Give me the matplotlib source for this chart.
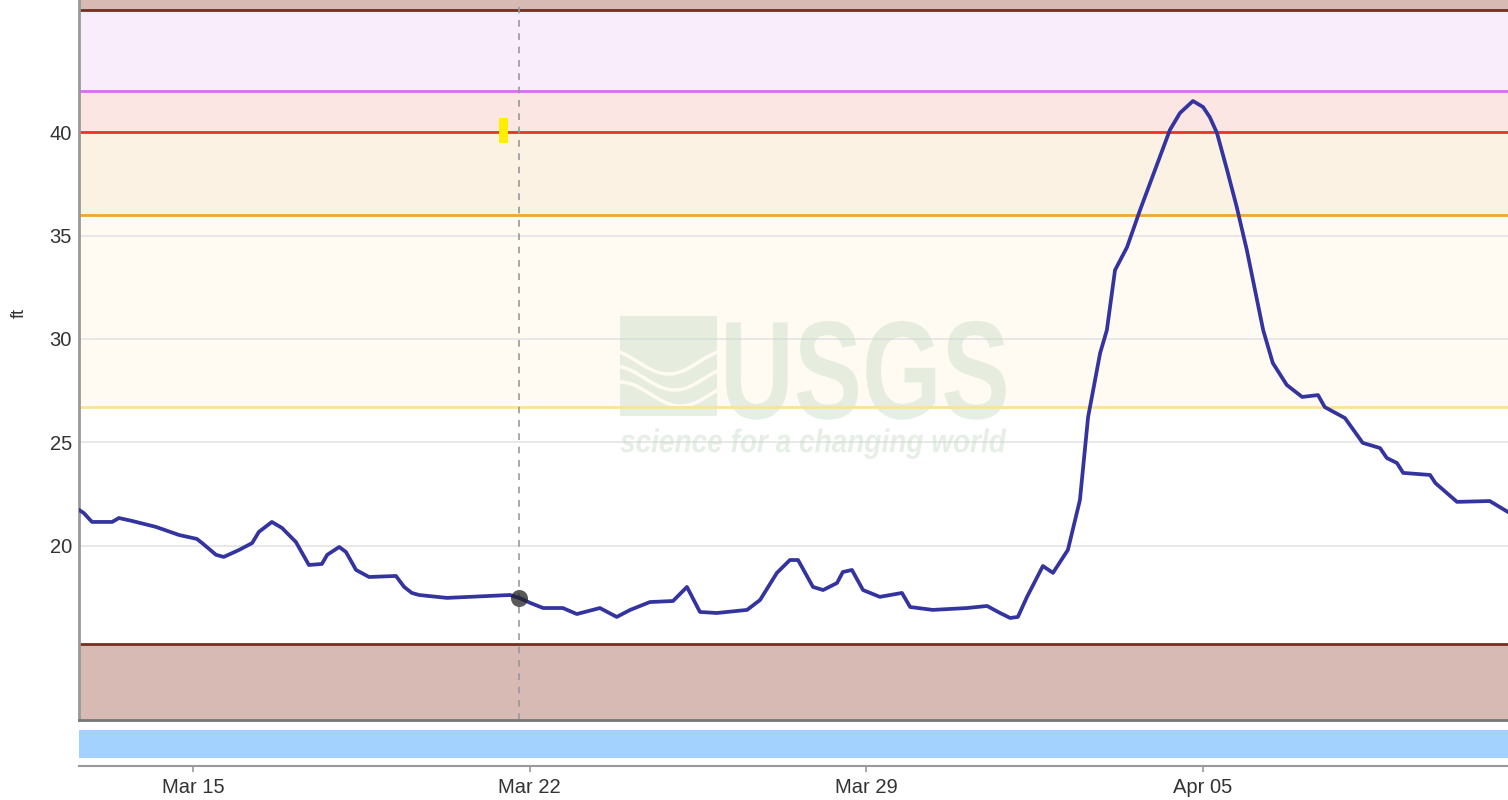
import numpy as np
import pandas as pd
import matplotlib
matplotlib.use('Agg')
import matplotlib.pyplot as plt
import matplotlib.dates as mdates
from matplotlib.patches import Rectangle
from matplotlib.patheffects import AbstractPathEffect
from matplotlib.transforms import Affine2D

plt.rcParams['font.family'] = ['Liberation Sans', 'DejaVu Sans']

start = pd.Timestamp('2025-03-01')

# gage height readings: day counted from Mar 1 (= day 1, Apr 1 = day 32) and feet
stage_day = [12.63, 12.73, 12.90, 13.32, 13.46, 13.73, 14.23, 14.71, 15.08, 15.19,
             15.48, 15.64, 15.96, 16.23, 16.37, 16.64, 16.85, 17.14, 17.41, 17.68,
             17.79, 18.04, 18.18, 18.39, 18.66, 19.22, 19.39, 19.55, 19.70, 20.28,
             21.59, 21.78, 22.01, 22.28, 22.69, 22.98, 23.46, 23.81, 24.09, 24.50,
             24.98, 25.27, 25.54, 25.89, 26.52, 26.79, 27.14, 27.41, 27.58, 27.89,
             28.10, 28.39, 28.51, 28.70, 28.93, 29.28, 29.74, 29.91, 30.38, 31.09,
             31.51, 31.78, 31.99, 32.15, 32.34, 32.67, 32.88, 33.19, 33.44, 33.61,
             33.86, 34.00, 34.17, 34.42, 34.69, 34.90, 35.31, 35.52, 35.79, 36.00,
             36.14, 36.29, 36.50, 36.70, 36.91, 37.25, 37.45, 37.74, 38.06, 38.39,
             38.53, 38.95, 39.32, 39.68, 39.82, 40.03, 40.16, 40.72, 40.83, 41.28,
             41.96, 42.34]
stage_ft = [21.74, 21.59, 21.16, 21.16, 21.35, 21.21, 20.92, 20.53, 20.34, 20.14,
            19.57, 19.47, 19.81, 20.14, 20.68, 21.16, 20.87, 20.19, 19.08, 19.13,
            19.57, 19.95, 19.71, 18.84, 18.50, 18.55, 18.02, 17.73, 17.63, 17.49,
            17.63, 17.49, 17.25, 17.00, 17.00, 16.71, 17.00, 16.57, 16.91, 17.29,
            17.34, 18.02, 16.81, 16.76, 16.91, 17.39, 18.70, 19.32, 19.32, 18.02,
            17.87, 18.21, 18.74, 18.84, 17.87, 17.54, 17.73, 17.05, 16.91, 17.00,
            17.10, 16.76, 16.52, 16.57, 17.54, 19.03, 18.70, 19.81, 22.22, 26.23,
            29.32, 30.43, 33.33, 34.44, 36.23, 37.54, 40.10, 40.92, 41.50, 41.21,
            40.72, 39.95, 38.16, 36.38, 34.30, 30.43, 28.84, 27.78, 27.20, 27.29,
            26.71, 26.18, 24.98, 24.73, 24.25, 24.01, 23.53, 23.43, 23.04, 22.13,
            22.17, 21.64]

# flood category thresholds (ft) and their colours, bottom to top
thresholds = [15.25, 26.7, 36.0, 40.0, 42.0, 45.9]
band_colors = ['#d8bab5', '#ffffff', '#fffbf2', '#fbf2e3', '#fbe6e4', '#f9edfb', '#d8bab5']
line_colors = ['#7d2a1f', '#fbe394', '#f0a72a', '#e6371c', '#d56ef0', '#7d2a1f']

y_ticks = [20, 25, 30, 35, 40]
x_ticks = ['2025-03-15', '2025-03-22', '2025-03-29', '2025-04-05']

cursor_day = 21.78
marker_day, marker_low, marker_high = 21.455, 39.47, 40.68

xmin_day, xmax_day = 12.63, 42.34
ymin, ymax = 11.59, 46.38


def to_date(d):
    return start + pd.to_timedelta(np.asarray(d) - 1, unit='D')


class Stretch(AbstractPathEffect):
    # stretch text glyphs about their baseline origin (for the condensed logo type)
    def __init__(self, sx, sy):
        super().__init__()
        self.sx, self.sy = sx, sy

    def draw_path(self, renderer, gc, tpath, affine, rgbFace=None):
        x0, y0 = affine.transform((0, 0))
        extra = Affine2D().translate(-x0, -y0).scale(self.sx, self.sy).translate(x0, y0)
        renderer.draw_path(gc, tpath, affine + extra, rgbFace)


times = to_date(stage_day)

fig = plt.figure(figsize=(15.08, 8), dpi=100)
ax = fig.add_axes([79 / 1508, 80 / 800, 1429 / 1508, 720 / 800])
ax2 = fig.add_axes([79 / 1508, 34 / 800, 1429 / 1508, 38 / 800], sharex=ax)

# colour bands and threshold lines
edges = [ymin] + thresholds + [ymax]
for i, c in enumerate(band_colors):
    ax.axhspan(edges[i], edges[i + 1], color=c, lw=0, zorder=0.1)
for t, c in zip(thresholds, line_colors):
    ax.axhline(t, color=c, lw=2, zorder=1.5)

ax.set_axisbelow(True)
ax.grid(axis='y', color='#e4e4e4', lw=1.2)
ax.grid(axis='x', visible=False)

# USGS watermark
wm = '#c8dcc8'
ax.text(0.4486, 0.419, 'USGS', transform=ax.transAxes, fontsize=40, fontweight='bold',
        color=wm, alpha=0.45, ha='left', va='baseline', zorder=1,
        path_effects=[Stretch(1.84, 2.51)])
ax.text(0.3786, 0.372, 'science for a changing world', transform=ax.transAxes,
        fontsize=14, fontweight='bold', style='italic', color=wm, alpha=0.45,
        ha='left', va='baseline', zorder=1, path_effects=[Stretch(1.44, 1.68)])
lx0, lx1, ly0, ly1 = 0.3786, 0.4465, 0.4222, 0.5611
ax.add_patch(Rectangle((lx0, ly0), lx1 - lx0, ly1 - ly0, transform=ax.transAxes,
                       color=wm, alpha=0.45, lw=0, zorder=1))
tt = np.linspace(0, 1, 60)
for k in range(3):
    ax.plot(lx0 + tt * (lx1 - lx0),
            ly0 + (ly1 - ly0) * (0.22 + 0.16 * k + 0.12 * np.cos(np.pi * (tt * 1.6 + 0.1 * k))),
            transform=ax.transAxes, color='#fffbf2', lw=2.5, zorder=1.1)

# cursor and markers
cursor = to_date(cursor_day)
ax.axvline(cursor, color='#999999', lw=1.2, ls=(0, (4, 4)), zorder=2)
ax.bar(to_date(marker_day), marker_high - marker_low, bottom=marker_low, width=0.19,
       color='#ffee00', zorder=2.5)

ax.plot(times, stage_ft, color='#3434a0', lw=2.7, zorder=3, solid_joinstyle='round')
ax.scatter([cursor], [np.interp(cursor_day, stage_day, stage_ft)], s=150,
           color='#222222', alpha=0.75, zorder=4, lw=0)

ax.set_xlim(to_date(xmin_day), to_date(xmax_day))
ax.set_ylim(ymin, ymax)
ax.set_yticks(y_ticks)
ax.tick_params(axis='y', length=0, pad=5, labelsize=14.5, labelcolor='#333333')
ax.tick_params(axis='x', length=0, labelbottom=False)
ax.set_ylabel('ft', fontsize=13, color='#333333')
ax.yaxis.set_label_coords(-0.036, 0.565)
for s in ['top', 'right']:
    ax.spines[s].set_visible(False)
ax.spines['left'].set_color('#999999')
ax.spines['left'].set_linewidth(2)
ax.spines['bottom'].set_color('#777777')
ax.spines['bottom'].set_linewidth(2)

# navigator strip with the date axis
ax2.set_ylim(0, 1)
ax2.axhspan(0.21, 0.95, color='#a2d2fd', lw=0)
ax2.set_yticks([])
for s in ['top', 'right', 'left']:
    ax2.spines[s].set_visible(False)
ax2.spines['bottom'].set_color('#999999')
ax2.spines['bottom'].set_linewidth(1.5)
ax2.set_xticks(pd.to_datetime(x_ticks))
ax2.xaxis.set_major_formatter(mdates.DateFormatter('%b %d'))
ax2.tick_params(axis='x', length=4.5, width=1.2, color='#999999', pad=4,
                labelsize=14.5, labelcolor='#333333')
ax2.patch.set_alpha(0)

fig.savefig('out.png', dpi=100)
